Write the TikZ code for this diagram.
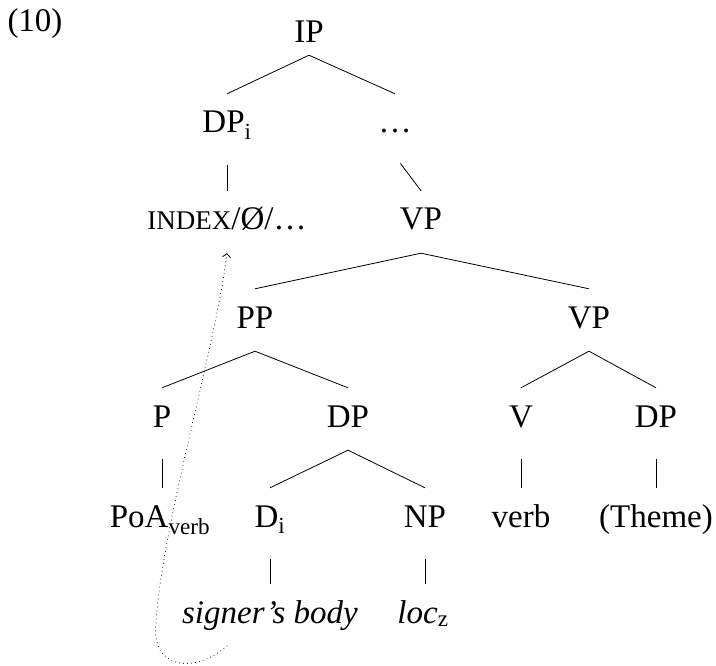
\documentclass[tikz,border=0pt]{standalone}
\usepackage{fontspec}
\setmainfont{Liberation Serif}
\usetikzlibrary{arrows.meta}
\newcommand{\smcaps}[1]{{\fontsize{27}{32}\selectfont #1}}

\begin{document}
\begin{tikzpicture}[x=1pt, y=-1pt,
    font=\fontsize{33}{38}\selectfont,
    cat/.style={anchor=base, text height=22pt, text depth=6pt, inner xsep=1pt, inner ysep=17pt},
    branch/.style={line width=0.8pt},
    unary/.style={line width=0.8pt, shorten <=9pt}]
\useasboundingbox (0,0) rectangle (716,666);

\node[anchor=base] (exnum) at (35, 32) {(10)};

\node[cat, text depth=0pt, inner ysep=12pt] (ip) at (309, 43) {IP};
\node[cat] (dpi)   at (227, 133) {DP\textsubscript{i}};
\node[cat] (dots)  at (395, 133) {…};
\node[cat] (index) at (227, 230) {\smcaps{INDEX}/Ø/…};
\node[cat] (vp)    at (421, 230) {VP};
\node[cat] (pp)    at (255, 328) {PP};
\node[cat] (vpr)   at (589, 328) {VP};
\node[cat] (p)     at (162, 427) {P};
\node[cat] (dp)    at (348, 427) {DP};
\node[cat] (v)     at (521, 427) {V};
\node[cat] (dpr)   at (656, 427) {DP};
\node[cat] (poa)   at (160, 527) {PoA\textsubscript{verb}};
\node[cat] (di)    at (270, 527) {D\textsubscript{i}};
\node[cat] (np)    at (425, 527) {NP};
\node[cat] (verb)  at (521, 527) {verb};
\node[cat] (theme) at (656, 527) {(Theme)};
\node[cat] (body)  at (270, 623) {\itshape signer’s body};
\node[cat] (loc)   at (423, 623) {\itshape loc\textsubscript{\upshape z}};

\draw[branch] (ip.south) -- (dpi.north);
\draw[branch] (ip.south) -- (dots.north);
\draw[unary] (dpi.south) -- (index.north);
\draw[unary] (dots.south) -- (vp.north);
\draw[branch] (vp.south) -- (pp.north);
\draw[branch] (vp.south) -- (vpr.north);
\draw[branch] (pp.south) -- (p.north);
\draw[branch] (pp.south) -- (dp.north);
\draw[branch] (vpr.south) -- (v.north);
\draw[branch] (vpr.south) -- (dpr.north);
\draw[unary] (p.south) -- (poa.north -| p.south);
\draw[branch] (dp.south) -- (di.north);
\draw[branch] (dp.south) -- (np.north);
\draw[unary] (v.south) -- (verb.north);
\draw[unary] (dpr.south) -- (theme.north);
\draw[unary] (di.south) -- (body.north -| di.south);
\draw[unary] (np.south) -- (loc.north -| np.south);

% movement
\coordinate (tail) at (227, 646);
\draw[line width=1pt, line cap=round, dash pattern=on 0pt off 4pt,
      -{Straight Barb[length=3.5pt, width=8pt, line width=0.8pt, line cap=butt]}]
  (tail) .. controls (195, 674) and (150, 670) .. (156, 622)
  .. controls (163, 520) and (215, 350) .. (index.south);
\end{tikzpicture}
\end{document}
